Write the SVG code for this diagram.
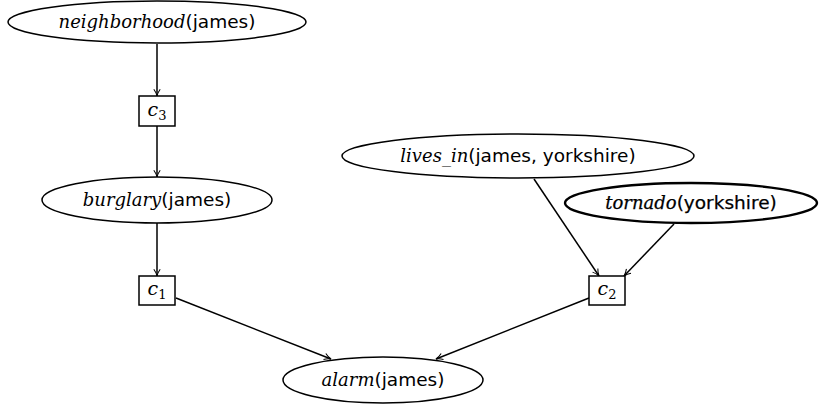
<svg xmlns="http://www.w3.org/2000/svg" width="820" height="407" viewBox="0 0 820 407">
<style>
.node ellipse{fill:#fff;stroke:#000;stroke-width:1.5}
.node rect{fill:#fff;stroke:#000;stroke-width:1.5}
.ev ellipse{stroke-width:2.4}
.lbl{font-size:19px;fill:#000;text-anchor:middle}
.it{font-family:"DejaVu Serif","Liberation Serif",serif;font-style:italic;font-size:18px}
.sf{font-family:"DejaVu Sans","Liberation Sans",sans-serif;font-size:18.5px}
.ev .lbl{stroke:#000;stroke-width:0.25}
.fac{font-family:"DejaVu Serif","Liberation Serif",serif;font-size:19px;text-anchor:middle}
.sub{font-family:"DejaVu Serif","Liberation Serif",serif;font-size:13px;font-style:normal}
.edges line{stroke:#000;stroke-width:1.5;marker-end:url(#ah)}
</style>
<defs>
<marker id="ah" viewBox="0 0 10 10" refX="9.5" refY="5" markerWidth="8" markerHeight="8" markerUnits="userSpaceOnUse" orient="auto">
<path d="M1,1 Q5,4 9.5,5 Q5,6 1,9" fill="none" stroke="#000" stroke-width="1.3"/>
</marker>
</defs>
<g id="edges" class="edges">
<line x1="157" y1="44" x2="157" y2="96"/>
<line x1="157" y1="126" x2="157" y2="177"/>
<line x1="157" y1="223" x2="157" y2="276"/>
<line x1="176" y1="298" x2="331" y2="359"/>
<line x1="589" y1="298" x2="436" y2="359"/>
<line x1="534" y1="179" x2="599" y2="276"/>
<line x1="674" y1="224" x2="624" y2="276"/>
</g>
<g id="n_neighborhood" class="node">
<ellipse cx="157" cy="22" rx="149" ry="21"/>
<text class="lbl" x="157" y="28"><tspan class="it">neighborhood</tspan><tspan class="sf">(james)</tspan></text>
</g>
<g id="n_c3" class="node">
<rect x="139" y="96" width="36" height="30"/>
<text class="fac" x="157" y="116"><tspan font-style="italic">c</tspan><tspan class="sub" dy="4">3</tspan></text>
</g>
<g id="n_burglary" class="node">
<ellipse cx="157" cy="200" rx="115" ry="23"/>
<text class="lbl" x="157" y="206"><tspan class="it">burglary</tspan><tspan class="sf">(james)</tspan></text>
</g>
<g id="n_c1" class="node">
<rect x="139" y="276" width="36" height="29"/>
<text class="fac" x="157" y="295"><tspan font-style="italic">c</tspan><tspan class="sub" dy="4">1</tspan></text>
</g>
<g id="n_lives_in" class="node">
<ellipse cx="518" cy="156" rx="176" ry="22"/>
<text class="lbl" x="518" y="162"><tspan class="it">lives_in</tspan><tspan class="sf">(james, yorkshire)</tspan></text>
</g>
<g id="n_tornado" class="node ev">
<ellipse cx="691" cy="203" rx="126" ry="20"/>
<text class="lbl" x="691" y="209"><tspan class="it">tornado</tspan><tspan class="sf">(yorkshire)</tspan></text>
</g>
<g id="n_c2" class="node">
<rect x="589" y="276" width="36" height="29"/>
<text class="fac" x="607" y="295"><tspan font-style="italic">c</tspan><tspan class="sub" dy="4">2</tspan></text>
</g>
<g id="n_alarm" class="node">
<ellipse cx="383" cy="380" rx="100" ry="23"/>
<text class="lbl" x="383" y="386"><tspan class="it">alarm</tspan><tspan class="sf">(james)</tspan></text>
</g>
</svg>
